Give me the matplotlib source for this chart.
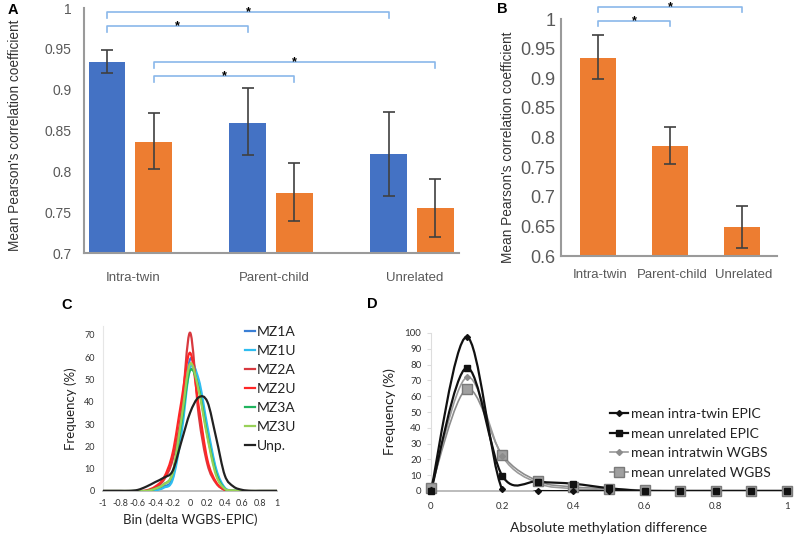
import numpy as np
import matplotlib
matplotlib.use('Agg')
import matplotlib.pyplot as plt
from matplotlib.path import Path
from matplotlib.patches import PathPatch

# ---------------- data ----------------
# Panel A
cats_A = ['Intra-twin', 'Parent-child', 'Unrelated']
a_blue = [0.934, 0.859, 0.821]
a_blue_lo = [0.921, 0.820, 0.770]
a_blue_hi = [0.949, 0.902, 0.873]
a_orange = [0.836, 0.774, 0.755]
a_orange_lo = [0.803, 0.739, 0.719]
a_orange_hi = [0.872, 0.810, 0.791]
a_yticks = [0.7, 0.75, 0.8, 0.85, 0.9, 0.95, 1]
a_yticklabels = ['0.7', '0.75', '0.8', '0.85', '0.9', '0.95', '1']
# significance brackets: (group1, series1, group2, series2, level)
sig_A = [(0, 0, 2, 0, 0.995), (0, 0, 1, 0, 0.978), (0, 1, 2, 1, 0.934), (0, 1, 1, 1, 0.917)]

# Panel B
cats_B = ['Intra-twin', 'Parent-child', 'Unrelated']
b_vals = [0.935, 0.786, 0.649]
b_lo = [0.898, 0.755, 0.614]
b_hi = [0.973, 0.817, 0.685]
b_yticks = [0.6, 0.65, 0.7, 0.75, 0.8, 0.85, 0.9, 0.95, 1]
b_yticklabels = ['0.6', '0.65', '0.7', '0.75', '0.8', '0.85', '0.9', '0.95', '1']
sig_B = [(0, 2, 1.020), (0, 1, 0.997)]

# Panel C
bins_C = [-1.0, -0.9, -0.8, -0.7, -0.6, -0.5, -0.4, -0.3, -0.2, -0.1, 0.0,
          0.1, 0.2, 0.3, 0.4, 0.5, 0.6, 0.7, 0.8, 0.9, 1.0]
mz1a = [0, 0, 0, 0, 0, 0, 0.5, 2, 6, 28, 59, 47, 27, 9, 1, 0, 0, 0, 0, 0, 0]
mz1u = [0, 0, 0, 0, 0, 0, 0.3, 1.5, 5, 25, 55, 50, 29, 10, 1.5, 0.3, 0, 0, 0, 0, 0]
mz2a = [0, 0, 0, 0, 0, 0, 1.5, 5, 14, 35, 71, 34, 12, 3.5, 0.5, 0, 0, 0, 0, 0, 0]
mz2u = [0, 0, 0, 0, 0, 0.3, 2, 6, 17, 40, 62, 38, 14, 4, 0.5, 0, 0, 0, 0, 0, 0]
mz3a = [0, 0, 0, 0, 0, 0, 1, 3, 8, 30, 54, 46, 25, 8, 1, 0, 0, 0, 0, 0, 0]
mz3u = [0, 0, 0, 0, 0, 0, 1, 3, 8, 32, 57, 45, 24, 7, 1, 0.3, 0, 0, 0, 0, 0]
unp = [0, 0, 0, 0, 0.5, 2, 4, 6, 9, 22, 35, 42, 40, 24, 7, 2, 0.5, 0, 0, 0, 0]
c_series = ['MZ1A', 'MZ1U', 'MZ2A', 'MZ2U', 'MZ3A', 'MZ3U', 'Unp.']
c_values = [mz1a, mz1u, mz2a, mz2u, mz3a, mz3u, unp]
c_colors = ['#3a7fd5', '#2fbdf0', '#d8393f', '#ff2626', '#20b45e', '#98d158', '#222222']
c_xticks = [-1, -0.8, -0.6, -0.4, -0.2, 0, 0.2, 0.4, 0.6, 0.8, 1]
c_xticklabels = ['-1', '-0.8', '-0.6', '-0.4', '-0.2', '0', '0.2', '0.4', '0.6', '0.8', '1']
c_yticks = [0, 10, 20, 30, 40, 50, 60, 70]

# Panel D
x_D = [0, 0.1, 0.2, 0.3, 0.4, 0.5, 0.6, 0.7, 0.8, 0.9, 1.0]
intra_epic = [0.5, 97.5, 1, 0, 0, 0, 0, 0, 0, 0, 0]
unrel_epic = [0, 78, 9.7, 6, 4.6, 1.8, 0, 0, 0, 0, 0]
intra_wgbs = [1, 72, 22, 5, 1.5, 0.5, 0, 0, 0, 0, 0]
unrel_wgbs = [2, 64.5, 23, 6.3, 2.6, 1.5, 0.5, 0.2, 0.2, 0.2, 0.2]
d_labels = ['mean intra-twin EPIC', 'mean unrelated EPIC', 'mean intratwin WGBS', 'mean unrelated WGBS']
d_xticks = [0, 0.2, 0.4, 0.6, 0.8, 1]
d_xticklabels = ['0', '0.2', '0.4', '0.6', '0.8', '1']
d_yticks = [0, 10, 20, 30, 40, 50, 60, 70, 80, 90, 100]

# ---------------- helpers ----------------
def smooth_path(x, y):
    P = np.column_stack([x, y]).astype(float)
    n = len(P)
    verts = [P[0]]
    codes = [Path.MOVETO]
    for i in range(n - 1):
        p0 = P[i - 1] if i > 0 else P[i]
        p1 = P[i]
        p2 = P[i + 1]
        p3 = P[i + 2] if i + 2 < n else P[i + 1]
        c1 = p1 + (p2 - p0) / 6.0
        c2 = p2 - (p3 - p1) / 6.0
        verts += [c1, c2, p2]
        codes += [Path.CURVE4] * 3
    return Path(verts, codes)


def draw_smooth(ax, x, y, **kw):
    patch = PathPatch(smooth_path(x, y), facecolor='none', **kw)
    ax.add_patch(patch)
    return patch


AB_FONT = ['Liberation Sans', 'DejaVu Sans']
CD_FONT = ['Lato', 'DejaVu Sans']
SPINE = '#9a9a9a'
TICKC = '#595959'
BRACKET = '#8ab8ea'
ERR = '#404040'
BLUE = '#4472c4'
ORANGE = '#ed7d31'

fig = plt.figure(figsize=(8.0, 5.39), dpi=100)


def bar_axes_style(ax):
    for s in ['top', 'right']:
        ax.spines[s].set_visible(False)
    for s in ['left', 'bottom']:
        ax.spines[s].set_color(SPINE)
        ax.spines[s].set_linewidth(1.5)
    ax.tick_params(axis='both', length=0, colors=TICKC)


def bracket(ax, x1, x2, level, drop):
    ax.plot([x1, x1, x2, x2], [level - drop, level, level, level - drop],
            color=BRACKET, lw=1.2, clip_on=False, solid_joinstyle='round')
    ax.text((x1 + x2) / 2, level, '*', ha='center', va='center', fontsize=9,
            color='black', fontweight='bold', family=AB_FONT, clip_on=False)

# ---------------- Panel A ----------------
axA = fig.add_axes([84 / 800, 1 - 253 / 539, 375 / 800, 245 / 539])
off = 0.165
w = 0.262
gx = np.arange(len(cats_A))
ya_err_b = [np.array(a_blue) - np.array(a_blue_lo), np.array(a_blue_hi) - np.array(a_blue)]
ya_err_o = [np.array(a_orange) - np.array(a_orange_lo), np.array(a_orange_hi) - np.array(a_orange)]
axA.bar(gx - off, a_blue, w, color=BLUE, zorder=2)
axA.bar(gx + off, a_orange, w, color=ORANGE, zorder=2)
axA.errorbar(gx - off, a_blue, yerr=ya_err_b, fmt='none', ecolor=ERR, elinewidth=1.2, capsize=4, capthick=1.2, zorder=3)
axA.errorbar(gx + off, a_orange, yerr=ya_err_o, fmt='none', ecolor=ERR, elinewidth=1.2, capsize=4, capthick=1.2, zorder=3)
axA.set_ylim(0.7, 1.0)
axA.set_xlim(-0.328, 2.332)
axA.set_yticks(a_yticks)
axA.set_yticklabels(a_yticklabels, family=AB_FONT, fontsize=10)
axA.set_xticks(gx + 0.02)
axA.set_xticklabels(cats_A, family=AB_FONT, fontsize=9.5, color='#333333')
bar_axes_style(axA)
axA.tick_params(axis='x', pad=14)
axA.tick_params(axis='y', pad=9)
axA.set_ylabel("Mean Pearson's correlation coefficient", family=AB_FONT, fontsize=9.8, color='#333333')
axA.yaxis.set_label_coords(-0.166, 0.48)
for g1, s1, g2, s2, lev in sig_A:
    x1 = g1 + (off if s1 else -off)
    x2 = g2 + (off if s2 else -off)
    bracket(axA, x1, x2, lev, 0.007)

# ---------------- Panel B ----------------
axB = fig.add_axes([561 / 800, 1 - 256 / 539, 216 / 800, 237 / 539])
gb = np.arange(len(cats_B))
yb_err = [np.array(b_vals) - np.array(b_lo), np.array(b_hi) - np.array(b_vals)]
axB.bar(gb, b_vals, 0.5, color=ORANGE, zorder=2)
axB.errorbar(gb, b_vals, yerr=yb_err, fmt='none', ecolor=ERR, elinewidth=1.2, capsize=4, capthick=1.2, zorder=3)
axB.set_ylim(0.6, 1.0)
axB.set_xlim(-0.514, 2.486)
axB.set_yticks(b_yticks)
axB.set_yticklabels(b_yticklabels, family=AB_FONT, fontsize=13)
axB.set_xticks(gb + 0.03)
axB.set_xticklabels(cats_B, family=AB_FONT, fontsize=9.5, color='#333333')
bar_axes_style(axB)
axB.tick_params(axis='x', pad=9)
axB.tick_params(axis='y', pad=4)
axB.set_ylabel("Mean Pearson's correlation coefficient", family=AB_FONT, fontsize=9.8, color='#333333')
axB.yaxis.set_label_coords(-0.213, 0.46)
for g1, g2, lev in sig_B:
    bracket(axB, g1, g2, lev, 0.009)

# ---------------- Panel C ----------------
axC = fig.add_axes([103 / 800, 1 - 491 / 539, 174 / 800, 165 / 539])
handles = []
for name, vals, col in zip(c_series, c_values, c_colors):
    draw_smooth(axC, bins_C, vals, edgecolor=col, lw=1.6, zorder=3)
    h, = axC.plot([], [], color=col, lw=1.6, label=name)
    handles.append(h)
axC.set_xlim(-1, 1)
axC.set_ylim(0, 74)
axC.set_xticks(c_xticks)
axC.set_xticklabels(c_xticklabels, family=CD_FONT, fontsize=6.5)
axC.set_yticks(c_yticks)
axC.set_yticklabels([str(v) for v in c_yticks], family=CD_FONT, fontsize=6.5)
for s in ['top', 'right']:
    axC.spines[s].set_visible(False)
axC.spines['left'].set_color('#e6e6e6')
axC.spines['left'].set_linewidth(0.8)
axC.spines['bottom'].set_color('#b0b0b0')
axC.spines['bottom'].set_linewidth(1.2)
axC.tick_params(axis='both', length=0, colors='#333333')
axC.tick_params(axis='x', pad=6)
axC.tick_params(axis='y', pad=6)
axC.set_xlabel('Bin (delta WGBS-EPIC)', family=CD_FONT, fontsize=9.5, color='#222222', labelpad=4)
axC.set_ylabel('Frequency (%)', family=CD_FONT, fontsize=9.5, color='#222222', labelpad=5)
legC = fig.legend(handles=handles, loc='upper left', bbox_to_anchor=(245 / 800, 1 - 326 / 539),
                  frameon=False, prop={'family': CD_FONT, 'size': 10}, handlelength=0.7,
                  handletextpad=0.15, labelspacing=0.5, borderaxespad=0, borderpad=0)
for t in legC.get_texts():
    t.set_color('#222222')

# ---------------- Panel D ----------------
axD = fig.add_axes([431 / 800, 1 - 491 / 539, 356 / 800, 158 / 539])
d_styles = [
    dict(color='#111111', lw=1.6, marker='D', ms=3.0, mfc='#111111', mec='#111111'),
    dict(color='#111111', lw=1.6, marker='s', ms=5.0, mfc='#111111', mec='#111111'),
    dict(color='#9a9a9a', lw=1.2, marker='D', ms=3.0, mfc='#8c8c8c', mec='#8c8c8c'),
    dict(color='#8c8c8c', lw=1.2, marker='s', ms=6.5, mfc='#a0a0a0', mec='#7a7a7a'),
]
d_series = [intra_epic, unrel_epic, intra_wgbs, unrel_wgbs]
d_handles = []
for vals, st, lab in zip(d_series[::-1], d_styles[::-1], d_labels[::-1]):
    draw_smooth(axD, x_D, vals, edgecolor=st['color'], lw=st['lw'], zorder=3)
    axD.plot(x_D, vals, linestyle='none', marker=st['marker'], ms=st['ms'], mfc=st['mfc'],
             mec=st['mec'], zorder=4, clip_on=False)
for st, lab in zip(d_styles, d_labels):
    h, = axD.plot([], [], color=st['color'], lw=st['lw'], marker=st['marker'], ms=st['ms'],
                  mfc=st['mfc'], mec=st['mec'], label=lab)
    d_handles.append(h)
axD.set_xlim(0, 1)
axD.set_ylim(0, 100)
axD.set_xticks(d_xticks)
axD.set_xticklabels(d_xticklabels, family=CD_FONT, fontsize=7)
axD.set_yticks(d_yticks)
axD.set_yticklabels([str(v) for v in d_yticks], family=CD_FONT, fontsize=7)
for s in ['top', 'right']:
    axD.spines[s].set_visible(False)
axD.spines['left'].set_color('#dddddd')
axD.spines['left'].set_linewidth(0.8)
axD.spines['bottom'].set_color('#b0b0b0')
axD.spines['bottom'].set_linewidth(1.2)
axD.tick_params(axis='y', length=3, color='#dddddd', labelcolor='#333333', pad=4)
axD.tick_params(axis='x', length=0, labelcolor='#333333', pad=8)
axD.set_xlabel('Absolute methylation difference', family=CD_FONT, fontsize=10, color='#222222', labelpad=8)
axD.set_ylabel('Frequency (%)', family=CD_FONT, fontsize=10, color='#222222', labelpad=6)
legD = fig.legend(handles=d_handles, loc='upper left', bbox_to_anchor=(610 / 800, 1 - 408 / 539),
                  frameon=False, prop={'family': CD_FONT, 'size': 10}, handlelength=1.3,
                  handletextpad=0.2, labelspacing=0.55, borderaxespad=0, borderpad=0)
for t in legD.get_texts():
    t.set_color('#222222')

# ---------------- panel letters ----------------
for lbl, x, y in [('A', 13, 10), ('B', 502, 9), ('C', 67, 305), ('D', 372, 304)]:
    fig.text(x / 800, 1 - y / 539, lbl, ha='center', va='center', fontsize=10.5,
             fontweight='bold', family=AB_FONT)

fig.savefig('out.png', dpi=100)
